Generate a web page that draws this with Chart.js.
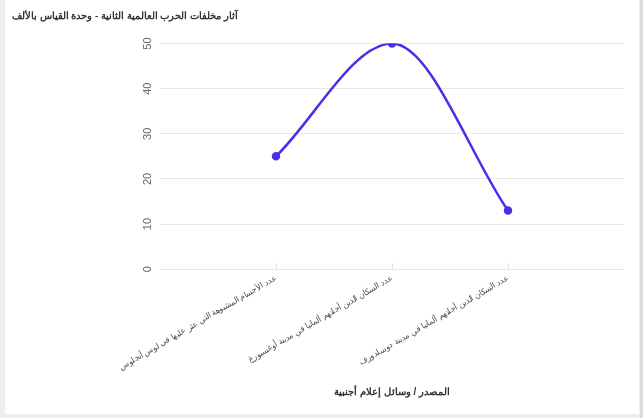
<!DOCTYPE html>
<html lang="ar">
<head>
    <meta charset="UTF-8">
    <title>آثار مخلفات الحرب العالمية الثانية</title>
    <script src="https://cdn.jsdelivr.net/npm/chart.js"></script>
    <style>
        html, body { margin: 0; padding: 0; background: #eeeeee; width: 643px; height: 418px; overflow: hidden; }
        .card { position: absolute; left: 5px; top: 0; width: 634px; height: 414px; background: #fff; }
        .edge { position: absolute; left: 640px; top: 0; width: 3px; height: 418px; background: #dcdcdc; }
    </style>
</head>
<body>
    <div class="card"><canvas id="chart" width="634" height="414"></canvas></div>
    <div class="edge"></div>

    <script>
    // chart values
    const categories = [
        '',
        'عدد الأجسام المشبوهة التي عثر عليها في لوس أنجلوس',
        'عدد السكان الذين أجلتهم ألمانيا في مدينة أوغسبورغ',
        'عدد السكان الذين أجلتهم ألمانيا في مدينة دوسلدورف',
        ''
    ];
    const values = [null, 25, 50, 13, null];
    const yTicks = [0, 10, 20, 30, 40, 50];

    const chartTitle = 'آثار مخلفات الحرب العالمية الثانية - وحدة القياس بالألف';
    const xTitle = 'المصدر / وسائل إعلام أجنبية';

    // short tick marks standing up from the baseline at each category
    const innerTicks = {
        id: 'innerTicks',
        beforeDatasetsDraw(chart) {
            const ctx = chart.ctx;
            const x = chart.scales.x;
            const bottom = chart.chartArea.bottom;
            ctx.save();
            ctx.strokeStyle = '#e3e3e3';
            ctx.lineWidth = 1;
            categories.forEach((c, i) => {
                if (!c) return;
                const px = Math.round(x.getPixelForTick(i)) + 0.5;
                ctx.beginPath();
                ctx.moveTo(px, bottom - 6);
                ctx.lineTo(px, bottom);
                ctx.stroke();
            });
            ctx.restore();
        }
    };

    new Chart(document.getElementById('chart'), {
        type: 'line',
        data: {
            labels: categories,
            datasets: [{
                data: values,
                borderColor: '#4a2ee8',
                backgroundColor: '#4a2ee8',
                borderWidth: 2.5,
                pointRadius: 3,
                pointHoverRadius: 4,
                cubicInterpolationMode: 'monotone',
                fill: false
            }]
        },
        options: {
            responsive: false,
            animation: false,
            layout: { padding: { left: 7, right: 15, top: 0, bottom: 12 } },
            plugins: {
                legend: { display: false },
                tooltip: { enabled: false },
                title: {
                    display: true,
                    text: chartTitle,
                    align: 'start',
                    color: '#333',
                    font: { size: 9.6, weight: 'bold' },
                    padding: { top: 11, bottom: 21 }
                }
            },
            scales: {
                x: {
                    border: { display: false },
                    grid: { display: false, drawTicks: false },
                    ticks: {
                        autoSkip: false,
                        minRotation: 30,
                        maxRotation: 30,
                        color: '#555',
                        font: { size: 8.3 },
                        padding: 4
                    },
                    title: {
                        display: true,
                        text: xTitle,
                        color: '#333',
                        font: { size: 10, weight: 'bold' },
                        padding: { top: 10 }
                    }
                },
                y: {
                    min: 0,
                    max: 50,
                    afterFit(scale) { scale.width = 148; },
                    afterBuildTicks(scale) { scale.ticks = yTicks.map(v => ({ value: v })); },
                    border: { display: false },
                    grid: { color: '#e8e8e8', drawTicks: false },
                    ticks: {
                        minRotation: 90,
                        maxRotation: 90,
                        crossAlign: 'center',
                        color: '#666',
                        font: { size: 11 },
                        padding: 6
                    }
                }
            }
        },
        plugins: [innerTicks]
    });
    </script>
</body>
</html>
